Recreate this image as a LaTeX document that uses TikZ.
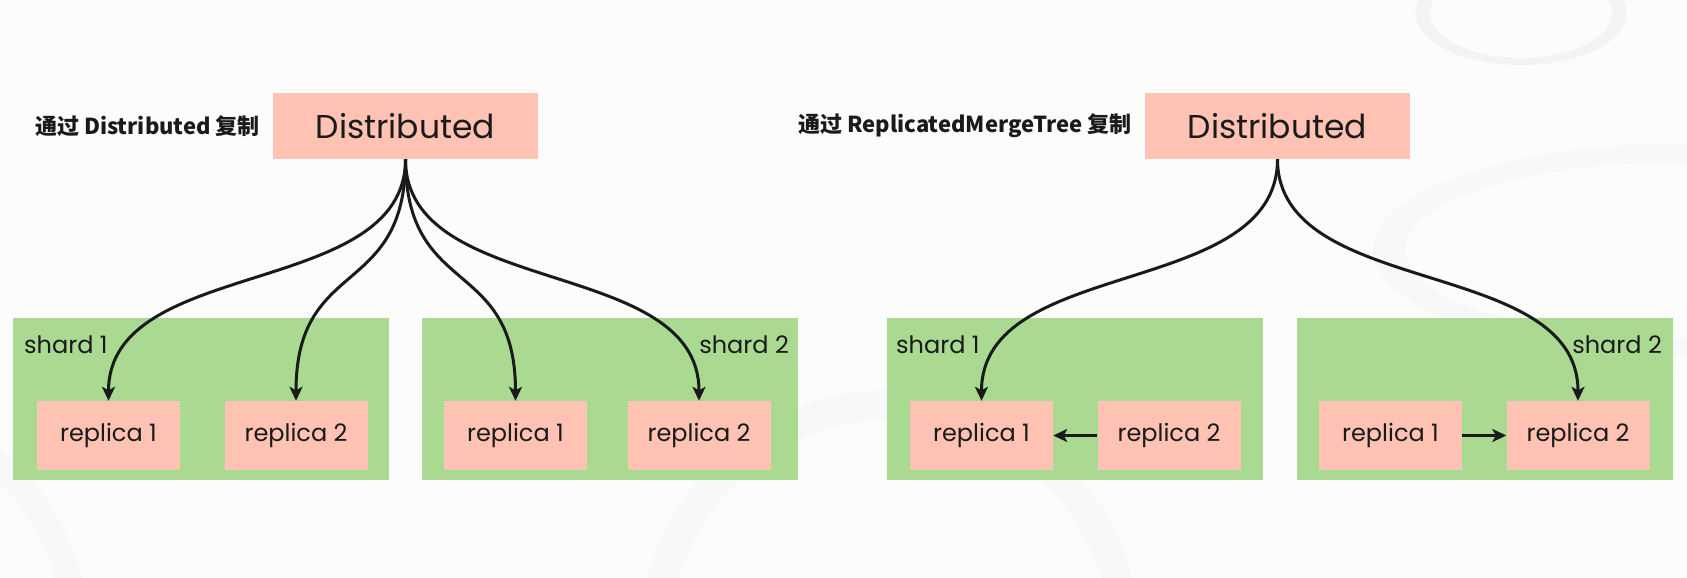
\documentclass[tikz,border=0pt]{standalone}
\usepackage{fontspec}
\setmainfont{Poppins}
\newfontfamily\cjk{Noto Sans CJK SC}
\usetikzlibrary{arrows.meta}
\definecolor{bg}{HTML}{FCFCFC}
\definecolor{salmon}{HTML}{FFC2B3}
\definecolor{grn}{HTML}{AAD991}
\definecolor{ink}{HTML}{1A1A1A}
\definecolor{decoA}{HTML}{F4F2F3}
\definecolor{decoB}{HTML}{F6F8F9}
\tikzset{
  distbox/.style={fill=salmon, minimum width=265pt, minimum height=66pt, inner sep=0pt, font=\fontsize{33}{38}\selectfont, text=ink},
  repbox/.style={fill=salmon, minimum width=143pt, minimum height=69pt, inner sep=0pt, font=\fontsize{24}{28}\selectfont, text=ink},
  shardbox/.style={fill=grn, minimum width=376pt, minimum height=162pt, inner sep=0pt},
  shardlbl/.style={inner sep=0pt, font=\fontsize{24}{28}\selectfont, text=ink},
  toplbl/.style={inner sep=0pt, font=\cjk\bfseries\fontsize{22}{26}\selectfont, text=ink},
  arr/.style={draw=ink, line width=3pt, -{Stealth[length=14pt,width=13pt,inset=3.5pt]}}
}
\begin{document}
\begin{tikzpicture}[x=1pt,y=-1pt]
\useasboundingbox (0,0) rectangle (1687,578);
\fill[bg] (0,0) rectangle (1687,578);
% faint background decorations
\begin{scope}
\clip (0,0) rectangle (1687,578);
\fill[decoA, even odd rule] (1521,13) ellipse (105.5pt and 52pt) (1521,13) ellipse (91pt and 45pt);
\fill[decoB, even odd rule] (1680,250) ellipse (307pt and 106pt) (1680,250) ellipse (275pt and 88pt);
\draw[decoB, line width=26pt] (-160,640) circle (237pt);
\draw[decoB, line width=30pt] (890,640) circle (235pt);
\end{scope}
% top
\node[distbox] (d1) at (405.5,126) {Distributed};
\node[distbox] (d2) at (1277.5,126) {Distributed};
\node[toplbl, anchor=east] (t1) at (260,126) {通过 Distributed 复制};
\node[toplbl, anchor=east] (t2) at (1132,126) {通过 ReplicatedMergeTree 复制};
% shards
\node[shardbox] (g1) at (201,399) {};
\node[shardbox] (g2) at (610,399) {};
\node[shardbox] (g3) at (1074.5,399) {};
\node[shardbox] (g4) at (1484.5,399) {};
\node[shardlbl, anchor=west] (s1) at (24,345) {shard 1};
\node[shardlbl, anchor=east] (s2) at (789,345) {shard 2};
\node[shardlbl, anchor=west] (s3) at (896,345) {shard 1};
\node[shardlbl, anchor=east] (s4) at (1662,345) {shard 2};
% replicas
\node[repbox] (l1) at (108.5,435.5) {replica 1};
\node[repbox] (l2) at (296,435.5) {replica 2};
\node[repbox] (l3) at (515.5,435.5) {replica 1};
\node[repbox] (l4) at (699,435.5) {replica 2};
\node[repbox] (r1) at (981.5,435.5) {replica 1};
\node[repbox] (r2) at (1169,435.5) {replica 2};
\node[repbox] (r3) at (1390.5,435.5) {replica 1};
\node[repbox] (r4) at (1578,435.5) {replica 2};
% connectors
\draw[arr] (d1.south) .. controls +(0,140) and +(0,-145) .. (l1.north);
\draw[arr] (d1.south) .. controls +(0,140) and +(0,-145) .. (l2.north);
\draw[arr] (d1.south) .. controls +(0,140) and +(0,-145) .. (l3.north);
\draw[arr] (d1.south) .. controls +(0,140) and +(0,-145) .. (l4.north);
\draw[arr] (d2.south) .. controls +(0,140) and +(0,-145) .. (r1.north);
\draw[arr] (d2.south) .. controls +(0,140) and +(0,-145) .. (r4.north);
\draw[arr] (r2.west) -- (r1.east);
\draw[arr] (r3.east) -- (r4.west);
\end{tikzpicture}
\end{document}
